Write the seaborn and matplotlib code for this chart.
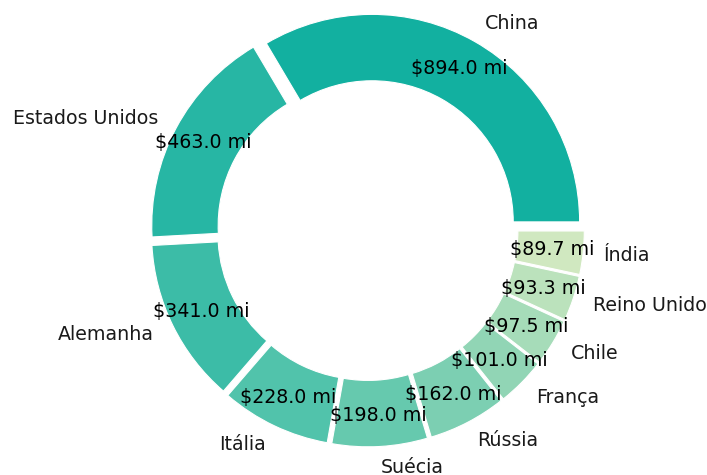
import matplotlib
matplotlib.use("Agg")
import matplotlib.pyplot as plt
import seaborn as sns

# data
paises = ["China", "Estados Unidos", "Alemanha", "Itália", "Suécia",
          "Rússia", "França", "Chile", "Reino Unido", "Índia"]
valores = [894.0, 463.0, 341.0, 228.0, 198.0, 162.0, 101.0, 97.5, 93.3, 89.7]

sns.set_theme(style="white")
plt.rcParams['font.family'] = ['DejaVu Sans']

total = sum(valores)
cores = sns.blend_palette(["#12B0A0", "#D0E8C0"], len(valores))

fig = plt.figure(figsize=(7.07, 4.75), dpi=100)
ax = fig.add_axes([0, 0, 1, 1])

wedges, textos, pcts = ax.pie(
    valores, labels=paises, colors=cores, startangle=0,
    explode=[0.045] * len(valores),
    autopct=lambda p: f"${p * total / 100:.1f} mi",
    pctdistance=0.85, labeldistance=1.1,
    wedgeprops=dict(width=0.32, edgecolor="white", linewidth=0.8),
    textprops=dict(fontsize=13.7, color="#1a1a1a"))

for t in pcts:
    t.set_color("black")

# pixel layout: center ~ (367, 230), radius ~ 207 px
ax.set_aspect("auto")
ax.set_xlim(-367.5 / 207.5, (707 - 367.5) / 207.5)
ax.set_ylim(-(475 - 230) / 207.5, 230 / 207.5)
ax.axis("off")

plt.savefig("out.png", dpi=100)
